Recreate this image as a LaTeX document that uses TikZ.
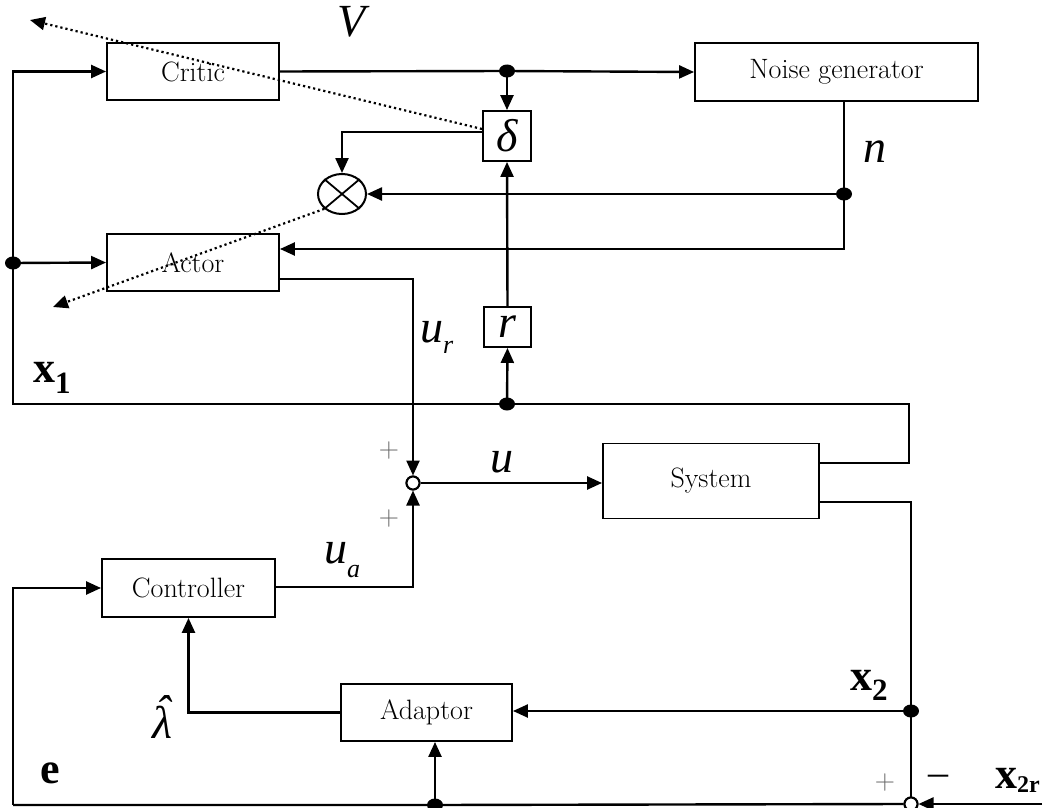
\documentclass[tikz,border=0pt]{standalone}
\usepackage{fontspec}
\usetikzlibrary{arrows.meta,shapes.geometric,calc}
\newfontfamily\tnr{Liberation Serif}
\begin{document}
\begin{tikzpicture}[x=1pt,y=-1pt,
  blk/.style={draw,line width=1.9pt,rectangle,inner sep=0,font=\fontsize{28}{32}\selectfont},
  conn/.style={line width=2.4pt},
  thinln/.style={line width=1.8pt},
  arr/.style={conn,-{Triangle[length=15pt,width=13pt]}},
  dotarr/.style={line width=2.2pt,dash pattern=on 2.2pt off 3pt,-{Triangle[length=15pt,width=13pt]}},
  jdot/.style={ellipse,fill,inner sep=0,minimum width=16pt,minimum height=13pt},
  sumj/.style={circle,draw,fill=white,line width=2pt,inner sep=0,minimum size=13pt},
  lbl/.style={font=\tnr\itshape\fontsize{46}{50}\selectfont,inner sep=0},
  bl/.style={font=\tnr\bfseries\fontsize{44}{48}\selectfont,inner sep=0},
  sgn/.style={text=black!60,font=\fontsize{28}{30}\selectfont,inner sep=0}]

\useasboundingbox (0,0) rectangle (1045,808);

% blocks
\node[blk,minimum width=172pt,minimum height=57pt] (critic) at (193,71.5) {Critic};
\node[blk,minimum width=172pt,minimum height=57pt] (actor) at (193,262.5) {Actor};
\node[blk,minimum width=283pt,minimum height=58pt] (noise) at (836.5,72) {Noise generator};
\node[blk,minimum width=48pt,minimum height=50pt,font=\tnr\itshape\fontsize{46}{50}\selectfont] (delta) at (507,136) {δ};
\node[blk,minimum width=47pt,minimum height=40pt,font=\tnr\itshape\fontsize{46}{50}\selectfont] (rbox) at (507.5,327) {r};
\node[ellipse,draw,line width=2pt,minimum width=48pt,minimum height=40pt,inner sep=0] (mult) at (342,194) {};
\node[blk,minimum width=216pt,minimum height=75pt] (system) at (711,481) {System};
\node[blk,minimum width=173pt,minimum height=58pt] (controller) at (188.5,588) {Controller};
\node[blk,minimum width=171pt,minimum height=57pt] (adaptor) at (426.5,712.5) {Adaptor};
\node[sumj] (sum1) at (413,483) {};
\node[sumj] (sum2) at (911,804) {};

% branch points
\coordinate (d1) at (507,71);
\coordinate (dn) at (844,194);
\coordinate (dx1) at (13,263);
\coordinate (dr) at (507,404);
\coordinate (dx2) at (911,711);
\coordinate (de) at (435,805);

% corners and free ends
\coordinate (xr) at (909,404);
\coordinate (xl) at (13,404);
\coordinate (el) at (13,805);
\coordinate (x2in) at (1042,804);
\coordinate (vtip) at (30,20);
\coordinate (atip) at (53,307);

% multiplier cross
\draw[line width=1.8pt] (mult.north west) -- (mult.south east)
                        (mult.north east) -- (mult.south west);

% state x1 feedback
\draw[thinln] ([yshift=18pt]system.east) -| (xr) -- (dr) -- (xl) -- (dx1);
\draw[arr] (dx1) |- (critic.west);
\draw[arr] (dx1) -- (actor.west);

% critic output V
\draw[conn] (critic.east) -- (d1);
\draw[arr] (d1) -- (noise.west);
\draw[arr] (d1) -- (delta.north);

% TD error to multiplier
\draw[arr] ([yshift=4pt]delta.west) -| (mult.north);

% noise n
\draw[thinln] (noise.south -| dn) -- (dn);
\draw[arr] (dn) -- (mult.east);
\draw[arr] (dn) |- ([yshift=13.5pt]actor.east);

% reward
\draw[arr] (rbox.north) -- (delta.south);
\draw[arr] (dr) -- (rbox.south);

% control summation
\draw[arr] ([yshift=-16.5pt]actor.east) -| (sum1.north);
\draw[arr] (sum1.east) -- (sum1.east -| system.west);
\draw[arr] ([yshift=1pt]controller.east) -| (sum1.south);

% output x2 and error loop
\draw[thinln] ([yshift=-21pt]system.east) -| (sum2.north);
\draw[arr] (dx2) -- (dx2 -| adaptor.east);
\draw[arr] (adaptor.west) -| (controller.south);
\draw[conn] (sum2.west) -- (de) -- (el);
\draw[arr] (el) |- (controller.west);
\draw[arr] (de) -- (de |- adaptor.south);
\draw[arr] (x2in) -- (sum2.east);

% adaptation paths
\draw[dotarr] ([yshift=7pt]delta.west) -- (vtip);
\draw[dotarr] (mult.south west) -- (atip);

% branch dots
\foreach \p in {d1,dn,dx1,dr,dx2,de} \node[jdot] at (\p) {};
\node[sumj] at (sum1) {};
\node[sumj] at (sum2) {};

% signal labels
\node[lbl,anchor=base west] (lV) at (337,37) {V};
\node[lbl,anchor=base west] (ln) at (863,162) {n};
\node[lbl,anchor=base west] (lu) at (490,472) {u};
\node[lbl,anchor=base west] (lur) at (420,342) {u\raisebox{-11pt}{\fontsize{26}{28}\selectfont r}};
\node[lbl,anchor=base west] (lua) at (324,563) {u\raisebox{-14pt}{\fontsize{26}{28}\selectfont a}};
\node[lbl,anchor=base west] (llam) at (152,738) {λ\llap{\raisebox{11pt}{\makebox[22pt]{\hspace{4pt}ˆ}}}};
\node[bl,anchor=base west] (lx1) at (33,382) {x\raisebox{-11pt}{\fontsize{31}{33}\selectfont 1}};
\node[bl,anchor=base west] (lx2) at (850,690) {x\raisebox{-10pt}{\fontsize{31}{33}\selectfont 2}};
\node[bl,anchor=base west] (lx2r) at (995,788) {x\raisebox{-4pt}{\fontsize{24}{26}\selectfont 2r}};
\node[bl,anchor=base west] (le) at (40,783) {e};

% signs at summing junctions
\node[sgn] at (389,451) {+};
\node[sgn] at (389,519) {+};
\node[sgn] at (885,783) {+};
\node[font=\tnr\fontsize{40}{40}\selectfont,inner sep=0] at (938,780) {–};
\end{tikzpicture}
\end{document}
